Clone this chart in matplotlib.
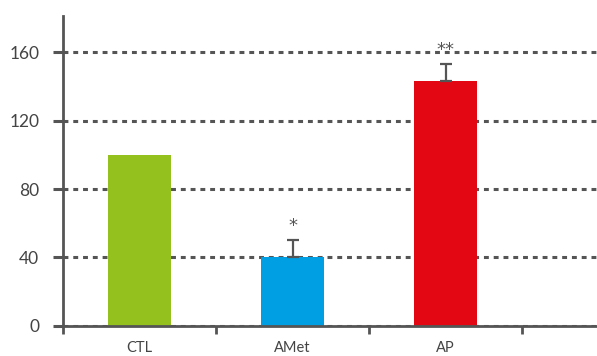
import numpy as np
import matplotlib
matplotlib.use("Agg")
import matplotlib.pyplot as plt

# data
groups = ["CTL", "AMet", "AP"]
values = [100, 40, 143]
err_up = [0, 10, 10]
stars = ["", "*", "**"]
colors = ["#95C11F", "#009FE3", "#E30613"]
yticks = [0, 40, 80, 120, 160]

plt.rcParams['font.family'] = ['Lato', 'DejaVu Sans']
axis_col = "#555555"

fig = plt.figure(figsize=(5.97, 3.56), dpi=100)
ax = fig.add_axes([0.1055, 0.085, 0.8945, 0.871])

x = np.arange(len(groups))
ax.bar(x, values, width=0.41, color=colors, zorder=2)

# only the upper half of the error bars, CTL has none
for xi, v, e, s in zip(x, values, err_up, stars):
    if e > 0:
        ax.errorbar(xi, v, yerr=[[0], [e]], fmt='none', ecolor=axis_col,
                    elinewidth=1.6, capsize=4, capthick=1.6, zorder=3)
    if s:
        ax.text(xi, v + e + 8.5, s, ha='center', va='center', fontsize=13,
                color=axis_col, family='DejaVu Sans')

ax.set_xlim(-0.5, 2.99)
ax.set_ylim(0, 181.5)

ax.set_yticks(yticks)
ax.set_yticklabels([str(t) for t in yticks])
ax.yaxis.grid(True, linestyle=(0, (1.6, 1.6)), linewidth=2.2, color=axis_col)
ax.set_axisbelow(True)

# group labels in the middle, tick marks at the boundaries
ax.set_xticks(x)
ax.set_xticklabels(groups)
ax.set_xticks(np.arange(-0.5, 3.0, 1.0), minor=True)
ax.tick_params(axis='x', which='major', length=0, pad=11, labelsize=10.5,
               labelcolor="#444444")
ax.tick_params(axis='x', which='minor', length=6, width=2, color=axis_col,
               direction='out')
ax.tick_params(axis='y', length=7, width=2.2, color=axis_col, pad=10,
               labelsize=12.5, labelcolor="#444444")

for side in ['top', 'right']:
    ax.spines[side].set_visible(False)
for side in ['left', 'bottom']:
    ax.spines[side].set_color(axis_col)
    ax.spines[side].set_linewidth(2)

fig.savefig("out.png", dpi=100)
